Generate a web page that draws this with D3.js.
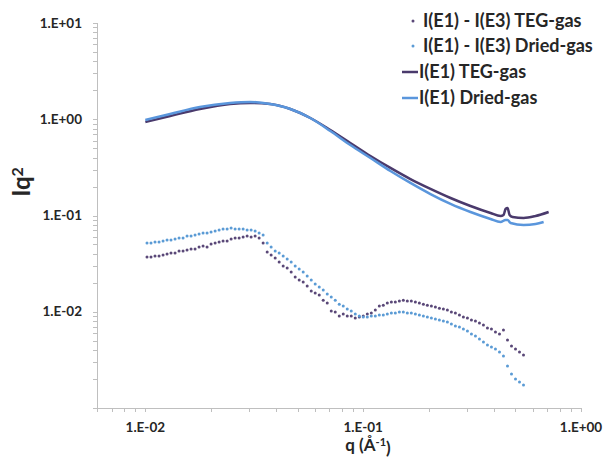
<!DOCTYPE html>
<html>
<head>
<meta charset="utf-8">
<script src="https://cdn.jsdelivr.net/npm/d3@7/dist/d3.min.js"></script>
<style>
  body { margin: 0; background: #fff; }
  text { font-family: Lato, "Open Sans", sans-serif; font-weight: bold; fill: #262626; }
</style>
</head>
<body>
<div id="chart"></div>
<script>
// q grid of the difference curves (A^-1)
var diffQ = [0.01018, 0.01062, 0.01108, 0.01156, 0.01206, 0.01258, 0.01312, 0.01369, 0.01428, 0.01490,
    0.01554, 0.01622, 0.01692, 0.01765, 0.01841, 0.01921, 0.02004, 0.02091, 0.02181, 0.02275,
    0.02374, 0.02476, 0.02583, 0.02695, 0.02812, 0.02933, 0.03060, 0.03192, 0.03330, 0.03474,
    0.03625, 0.03781, 0.03945, 0.04115, 0.04293, 0.04479, 0.04673, 0.04875, 0.05086, 0.05306,
    0.05535, 0.05775, 0.06024, 0.06285, 0.06557, 0.06840, 0.07136, 0.07445, 0.07767, 0.08103,
    0.08453, 0.08819, 0.09200, 0.09598, 0.1001, 0.1045, 0.1090, 0.1137, 0.1186, 0.1237,
    0.1291, 0.1347, 0.1405, 0.1466, 0.1529, 0.1595, 0.1664, 0.1736, 0.1811, 0.1890,
    0.1971, 0.2057, 0.2146, 0.2238, 0.2335, 0.2436, 0.2541, 0.2651, 0.2766, 0.2885,
    0.3010, 0.3140, 0.3276, 0.3418, 0.3565, 0.3720, 0.3881, 0.4049, 0.4224, 0.4406,
    0.4597, 0.4796, 0.5003, 0.5220, 0.5446];

// I(E1) - I(E3) TEG-gas
var tegDiff = [0.0371, 0.0371, 0.0380, 0.0380, 0.0389, 0.0398, 0.0408, 0.0408, 0.0428, 0.0428,
    0.0438, 0.0449, 0.0449, 0.0471, 0.0482, 0.0471, 0.0506, 0.0518, 0.0531, 0.0543,
    0.0543, 0.0570, 0.0584, 0.0584, 0.0598, 0.0612, 0.0598, 0.0612, 0.0584, 0.0518,
    0.0418, 0.0389, 0.0362, 0.0329, 0.0299, 0.0285, 0.0259, 0.0230, 0.0214, 0.0204,
    0.0185, 0.0164, 0.0157, 0.0149, 0.0132, 0.0123, 0.0102, 0.00994, 0.00903, 0.00948,
    0.00903, 0.00903, 0.00861, 0.00882, 0.00903, 0.00948, 0.00970, 0.0104, 0.0115, 0.0117,
    0.0123, 0.0126, 0.0126, 0.0129, 0.0132, 0.0129, 0.0129, 0.0126, 0.0123, 0.0120,
    0.0117, 0.0115, 0.0112, 0.0109, 0.0107, 0.0104, 0.00994, 0.00970, 0.00925, 0.00882,
    0.00861, 0.00821, 0.00801, 0.00764, 0.00728, 0.00678, 0.00662, 0.00616, 0.00587, 0.00646,
    0.00509, 0.00441, 0.00410, 0.00382, 0.00355];

// I(E1) - I(E3) Dried-gas
var driedDiff = [0.0518, 0.0518, 0.0531, 0.0531, 0.0543, 0.0557, 0.0557, 0.0570, 0.0584, 0.0584,
    0.0612, 0.0612, 0.0627, 0.0642, 0.0658, 0.0658, 0.0674, 0.0690, 0.0707, 0.0724,
    0.0724, 0.0742, 0.0724, 0.0724, 0.0724, 0.0707, 0.0707, 0.0690, 0.0658, 0.0627,
    0.0518, 0.0471, 0.0428, 0.0408, 0.0380, 0.0353, 0.0329, 0.0299, 0.0278, 0.0259,
    0.0235, 0.0214, 0.0194, 0.0181, 0.0168, 0.0153, 0.0142, 0.0132, 0.0120, 0.0115,
    0.0107, 0.0102, 0.00948, 0.00903, 0.00882, 0.00882, 0.00903, 0.00903, 0.00925, 0.00925,
    0.00948, 0.00970, 0.00970, 0.00994, 0.00994, 0.00970, 0.00970, 0.00948, 0.00925, 0.00903,
    0.00882, 0.00861, 0.00841, 0.00821, 0.00801, 0.00782, 0.00746, 0.00711, 0.00694, 0.00662,
    0.00631, 0.00587, 0.00560, 0.00521, 0.00485, 0.00451, 0.00430, 0.00410, 0.00382, 0.00347,
    0.00273, 0.00226, 0.00200, 0.00186, 0.00173];

// I(E1) TEG-gas
var tegLineQ = [0.01, 0.013, 0.0178, 0.0245, 0.0303, 0.0374, 0.0463, 0.0572, 0.0707, 0.0873,
    0.108, 0.1334, 0.1648, 0.2037, 0.2518, 0.311, 0.3844, 0.4273, 0.4411, 0.4505,
    0.4603, 0.47, 0.4853, 0.5452, 0.619, 0.7104];
var tegLineI = [0.936, 1.081, 1.278, 1.440, 1.475, 1.440, 1.278, 1.030, 0.773, 0.567,
    0.415, 0.312, 0.239, 0.189, 0.152, 0.1255, 0.1062, 0.0988, 0.1012, 0.1168,
    0.1196, 0.1012, 0.0965, 0.0942, 0.0988, 0.1087];

// I(E1) Dried-gas
var driedLineQ = [0.01, 0.013, 0.0178, 0.0245, 0.0303, 0.0374, 0.0463, 0.0572, 0.0707, 0.0873,
    0.108, 0.1334, 0.1648, 0.2037, 0.2518, 0.311, 0.3844, 0.4273, 0.4505, 0.4603,
    0.475, 0.5452, 0.619, 0.6738];
var driedLineI = [0.982, 1.134, 1.341, 1.475, 1.511, 1.440, 1.278, 1.030, 0.755, 0.540,
    0.396, 0.290, 0.218, 0.167, 0.132, 0.1087, 0.0920, 0.0856, 0.0898, 0.0898,
    0.0836, 0.0797, 0.0816, 0.0856];

var xTicks = [0.01, 0.1, 1];
var xTickLabels = ["1.E-02", "1.E-01", "1.E+00"];
var yTicks = [0.01, 0.1, 1, 10];
var yTickLabels = ["1.E-02", "1.E-01", "1.E+00", "1.E+01"];

var legendNames = ["I(E1) - I(E3) TEG-gas", "I(E1) - I(E3) Dried-gas", "I(E1) TEG-gas", "I(E1) Dried-gas"];

var width = 603, height = 462;
var purpleDot = "#5a4878", blueDot = "#5b9bd5";
var purpleLine = "#4a3a6c", blueLine = "#5a96dc";
var axisColor = "#bfbfbf";

var svg = d3.select("#chart").append("svg")
    .attr("width", width)
    .attr("height", height);

var x = d3.scaleLog().domain([0.006, 1]).range([97, 581]);
var y = d3.scaleLog().domain([0.001, 10]).range([408, 23]);

// minor ticks
svg.selectAll(".yminor").data(y.ticks())
    .enter().append("line")
    .attr("x1", 93).attr("x2", 97)
    .attr("y1", function(d) { return Math.round(y(d)) + 0.5; })
    .attr("y2", function(d) { return Math.round(y(d)) + 0.5; })
    .attr("stroke", axisColor);

svg.selectAll(".xminor").data(x.ticks())
    .enter().append("line")
    .attr("y1", 408).attr("y2", 412)
    .attr("x1", function(d) { return Math.round(x(d)) + 0.5; })
    .attr("x2", function(d) { return Math.round(x(d)) + 0.5; })
    .attr("stroke", axisColor);

// axis lines
svg.append("line").attr("x1", 97.5).attr("x2", 97.5).attr("y1", 23).attr("y2", 408.5).attr("stroke", axisColor);
svg.append("line").attr("x1", 97).attr("x2", 581).attr("y1", 408.5).attr("y2", 408.5).attr("stroke", axisColor);

// tick labels
svg.selectAll(".ylab").data(yTicks)
    .enter().append("text")
    .attr("x", 82)
    .attr("y", function(d) { return y(d); })
    .attr("dy", "0.35em")
    .attr("text-anchor", "end")
    .style("font-size", "13.5px")
    .text(function(d, i) { return yTickLabels[i]; });

svg.selectAll(".xlab").data(xTicks)
    .enter().append("text")
    .attr("x", function(d) { return x(d); })
    .attr("y", 427)
    .attr("dy", "0.35em")
    .attr("text-anchor", "middle")
    .style("font-size", "13.5px")
    .text(function(d, i) { return xTickLabels[i]; });

// axis titles
var yt = svg.append("text")
    .attr("transform", "translate(30,182) rotate(-90)")
    .attr("text-anchor", "middle")
    .style("font-size", "24px");
yt.append("tspan").text("Iq");
yt.append("tspan").attr("dy", "-0.45em").style("font-size", "16px").text("2");

var xt = svg.append("text")
    .attr("x", 368).attr("y", 451)
    .attr("text-anchor", "middle")
    .style("font-size", "17px");
xt.append("tspan").text("q (Å");
xt.append("tspan").attr("dy", "-0.45em").style("font-size", "11px").text("-1");
xt.append("tspan").attr("dy", "0.45em").text(")");

// lines
var line = d3.line()
    .x(function(d) { return x(d[0]); })
    .y(function(d) { return y(d[1]); })
    .curve(d3.curveMonotoneX);

svg.append("path")
    .datum(tegLineQ.map(function(q, i) { return [q, tegLineI[i]]; }))
    .attr("d", line)
    .attr("fill", "none")
    .attr("stroke", purpleLine)
    .attr("stroke-width", 2.5);

svg.append("path")
    .datum(driedLineQ.map(function(q, i) { return [q, driedLineI[i]]; }))
    .attr("d", line)
    .attr("fill", "none")
    .attr("stroke", blueLine)
    .attr("stroke-width", 2.5);

// dots
svg.selectAll(".tegdot").data(diffQ)
    .enter().append("circle")
    .attr("cx", function(d) { return x(d); })
    .attr("cy", function(d, i) { return y(tegDiff[i]); })
    .attr("r", 1.5)
    .attr("fill", purpleDot);

svg.selectAll(".drieddot").data(diffQ)
    .enter().append("circle")
    .attr("cx", function(d) { return x(d); })
    .attr("cy", function(d, i) { return y(driedDiff[i]); })
    .attr("r", 1.5)
    .attr("fill", blueDot);

// legend
var legendY = [21, 46, 72, 98];
var legend = svg.append("g");
legendNames.forEach(function(name, i) {
    if (i < 2) {
        legend.append("circle")
            .attr("cx", 413).attr("cy", legendY[i])
            .attr("r", 1.5)
            .attr("fill", i == 0 ? purpleDot : blueDot);
    } else {
        legend.append("line")
            .attr("x1", 402).attr("x2", 418)
            .attr("y1", legendY[i]).attr("y2", legendY[i])
            .attr("stroke", i == 2 ? purpleLine : blueLine)
            .attr("stroke-width", 2.5);
    }
    legend.append("text")
        .attr("x", i < 2 ? 423 : 419)
        .attr("y", legendY[i])
        .attr("dy", "0.35em")
        .style("font-size", "18px")
        .text(name);
});
</script>
</body>
</html>
